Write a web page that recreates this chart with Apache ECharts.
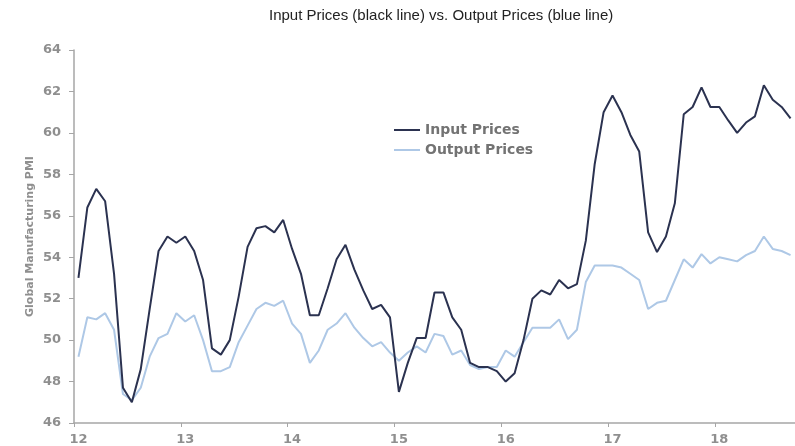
<!DOCTYPE html>
<html>
<head>
<meta charset="utf-8">
<script src="https://cdn.jsdelivr.net/npm/echarts@6/dist/echarts.min.js"></script>
<style>
  html, body { margin: 0; padding: 0; background: #fff; }
  #chart { width: 795px; height: 446px; }
</style>
</head>
<body>
<div id="chart"></div>
<script>
// 年份标签（每年一月显示）
const yearLabels = ['12', '13', '14', '15', '16', '17', '18']
// 月度类目：2012-01 ~ 2018-09
const months = []
yearLabels.forEach(y => {
  for (let m = 1; m <= 12; m++) {
    if (y === '18' && m > 9) break
    months.push(y + '-' + (m < 10 ? '0' + m : m))
  }
})

// 投入价格
const inputPrices = [
  53.0, 56.4, 57.3, 56.7, 53.2, 47.7, 47.0, 48.6, 51.5, 54.3, 55.0, 54.7,
  55.0, 54.3, 52.9, 49.6, 49.3, 50.0, 52.1, 54.5, 55.4, 55.5, 55.2, 55.8,
  54.4, 53.2, 51.2, 51.2, 52.5, 53.9, 54.6, 53.4, 52.4, 51.5, 51.7, 51.1,
  47.5, 48.9, 50.1, 50.1, 52.3, 52.3, 51.1, 50.5, 48.9, 48.7, 48.7, 48.5,
  48.0, 48.4, 50.0, 52.0, 52.4, 52.2, 52.9, 52.5, 52.7, 54.8, 58.5, 61.0,
  61.8, 61.0, 59.9, 59.1, 55.2, 54.25, 55.0, 56.6, 60.9, 61.25, 62.2, 61.25,
  61.25, 60.6, 60.0, 60.5, 60.8, 62.3, 61.6, 61.25, 60.7
]
// 产出价格
const outputPrices = [
  49.2, 51.1, 51.0, 51.3, 50.5, 47.4, 47.1, 47.7, 49.2, 50.1, 50.3, 51.3,
  50.9, 51.2, 50.0, 48.5, 48.5, 48.7, 49.9, 50.7, 51.5, 51.8, 51.65, 51.9,
  50.8, 50.3, 48.9, 49.5, 50.5, 50.8, 51.3, 50.6, 50.1, 49.7, 49.9, 49.4,
  49.0, 49.4, 49.7, 49.4, 50.3, 50.2, 49.3, 49.5, 48.8, 48.6, 48.7, 48.7,
  49.5, 49.2, 49.9, 50.6, 50.6, 50.6, 51.0, 50.05, 50.5, 52.8, 53.6, 53.6,
  53.6, 53.5, 53.2, 52.9, 51.5, 51.8, 51.9, 52.9, 53.9, 53.5, 54.15, 53.7,
  54.0, 53.9, 53.8, 54.1, 54.3, 55.0, 54.4, 54.3, 54.1
]

const INPUT_COLOR = '#2b3250'
const OUTPUT_COLOR = '#aec8e6'
const AXIS_COLOR = '#a6a6a6'
const WIDE_FONT = 'DejaVu Sans, Verdana, sans-serif'
const isJan = (index) => index % 12 === 0
const labelStyle = {
  color: '#8f8f8f',
  fontSize: 13,
  fontWeight: 'bold',
  fontFamily: WIDE_FONT
}

const chart = echarts.init(document.getElementById('chart'))
chart.setOption({
  animation: false,
  title: {
    text: 'Input Prices (black line) vs. Output Prices (blue line)',
    left: 264,
    top: 3,
    textStyle: {
      color: '#222',
      fontSize: 15,
      fontWeight: 'normal',
      fontFamily: 'Liberation Sans, Arial, sans-serif'
    }
  },
  legend: {
    orient: 'vertical',
    left: 389,
    top: 118,
    itemWidth: 26,
    itemHeight: 2,
    itemGap: 6,
    icon: 'rect',
    data: ['Input Prices', 'Output Prices'],
    textStyle: {
      color: '#737373',
      fontSize: 14,
      lineHeight: 14,
      fontWeight: 'bold',
      fontFamily: WIDE_FONT
    }
  },
  grid: { left: 74, right: 0, top: 50, bottom: 23 },
  xAxis: {
    type: 'category',
    data: months,
    boundaryGap: true,
    axisLine: { lineStyle: { color: AXIS_COLOR, width: 1.5 } },
    axisTick: { show: true, interval: isJan, length: 4, lineStyle: { color: AXIS_COLOR } },
    axisLabel: {
      ...labelStyle,
      interval: isJan,
      margin: 10,
      formatter: v => v.slice(0, 2)
    }
  },
  yAxis: {
    type: 'value',
    min: 46,
    max: 64,
    interval: 2,
    name: 'Global Manufacturing PMI',
    nameLocation: 'middle',
    nameGap: 38,
    nameMoveOverlap: false,
    nameTextStyle: {
      color: '#8f8f8f',
      fontSize: 11,
      fontWeight: 'bold',
      fontFamily: WIDE_FONT
    },
    axisLine: { show: true, lineStyle: { color: AXIS_COLOR, width: 1.5 } },
    axisTick: { show: true, length: 5, lineStyle: { color: AXIS_COLOR } },
    axisLabel: { ...labelStyle, margin: 13 },
    splitLine: { show: false }
  },
  series: [
    {
      name: 'Input Prices',
      type: 'line',
      data: inputPrices,
      symbol: 'none',
      lineStyle: { color: INPUT_COLOR, width: 2 },
      itemStyle: { color: INPUT_COLOR },
      z: 3
    },
    {
      name: 'Output Prices',
      type: 'line',
      data: outputPrices,
      symbol: 'none',
      lineStyle: { color: OUTPUT_COLOR, width: 2 },
      itemStyle: { color: OUTPUT_COLOR },
      z: 2
    }
  ]
})
</script>
</body>
</html>
